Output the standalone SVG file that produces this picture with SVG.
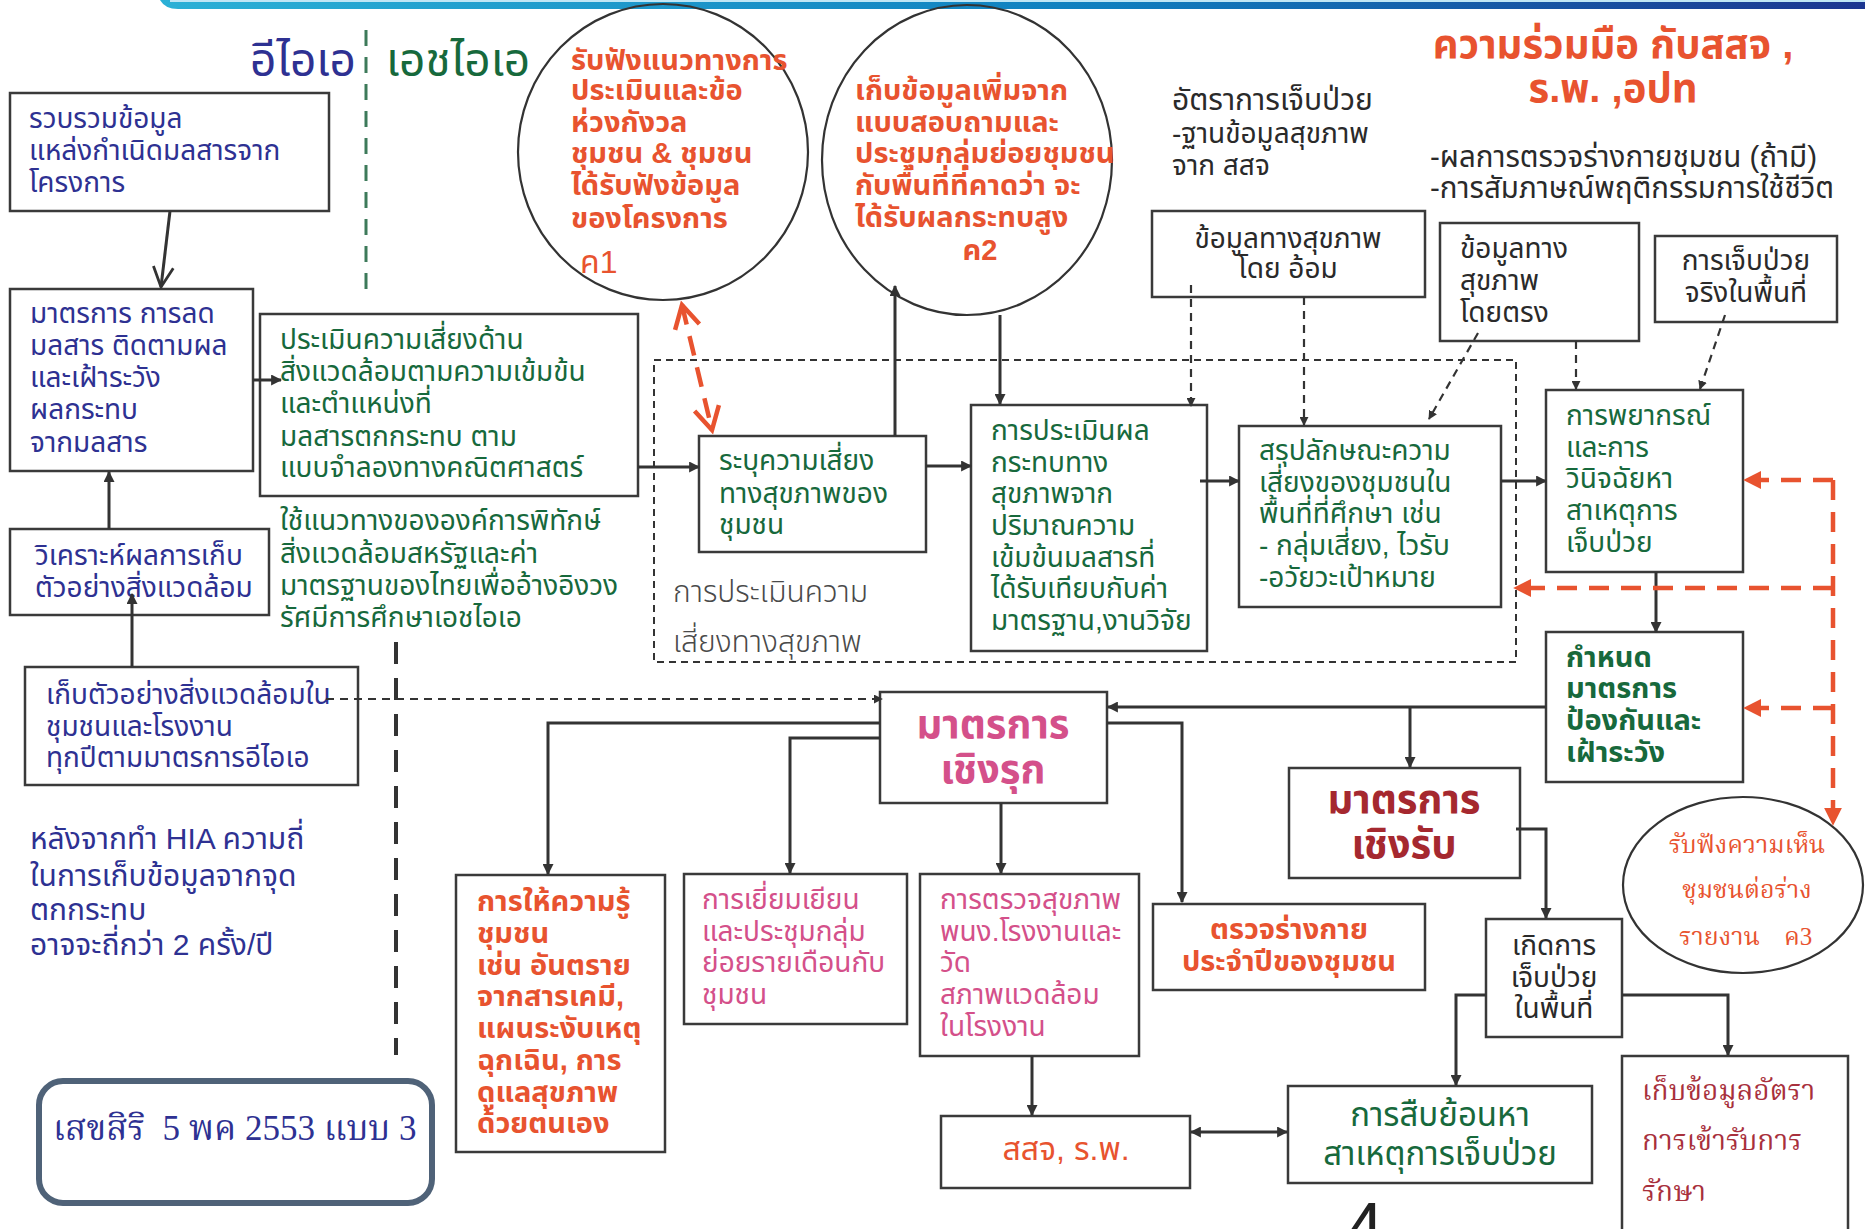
<svg xmlns="http://www.w3.org/2000/svg" width="1865" height="1229" viewBox="0 0 1865 1229">
<defs>
<linearGradient id="bar" x1="0" y1="0" x2="1" y2="0">
<stop offset="0" stop-color="#2bb0d6"/>
<stop offset="0.55" stop-color="#0f7fbf"/>
<stop offset="1" stop-color="#1c3690"/>
</linearGradient>
<marker id="ah" viewBox="0 0 10 10" refX="9" refY="5" markerWidth="9" markerHeight="9" markerUnits="userSpaceOnUse" orient="auto-start-reverse">
<path d="M0,0 L10,5 L0,10 z" fill="#333"/>
</marker>
<marker id="ahL" viewBox="0 0 10 10" refX="9" refY="5" markerWidth="11" markerHeight="11" markerUnits="userSpaceOnUse" orient="auto-start-reverse">
<path d="M0,0 L10,5 L0,10 z" fill="#333"/>
</marker>
<marker id="ahV" viewBox="0 0 12 12" refX="11" refY="6" markerWidth="24" markerHeight="24" markerUnits="userSpaceOnUse" orient="auto">
<path d="M1,1 L11,6 L1,11" fill="none" stroke="#333" stroke-width="1.4"/>
</marker>
<marker id="ahO" viewBox="0 0 10 10" refX="9" refY="5" markerWidth="18" markerHeight="18" markerUnits="userSpaceOnUse" orient="auto-start-reverse">
<path d="M0,0 L10,5 L0,10 z" fill="#e8532f"/>
</marker>
<marker id="ahOV" viewBox="0 0 12 12" refX="10" refY="6" markerWidth="30" markerHeight="30" markerUnits="userSpaceOnUse" orient="auto-start-reverse">
<path d="M1,1 L10,6 L1,11" fill="none" stroke="#e8532f" stroke-width="1.8"/>
</marker>
</defs>
<style>
text { font-family: "Liberation Sans", "Noto Sans Thai", "Noto Sans", sans-serif; font-size: 28px; }
.serif { font-family: "Liberation Serif", "Noto Serif Thai", "Noto Sans Thai", serif; }
.b { font-weight: bold; font-size: 29px; }
.blue { fill: #2e3192; }
.green { fill: #17693c; }
.orange { fill: #e8532f; }
.pink { fill: #d4508a; }
.dred { fill: #a5282f; }
.mred { fill: #a8303c; }
.dark { fill: #2a2a2a; }
.grey { fill: #4a4a4a; }
.box { fill: #fff; stroke: #3a3a3a; stroke-width: 2.5; }
.ell { fill: none; stroke: #333; stroke-width: 2.2; }
.c { stroke: #333; stroke-width: 3; fill: none; }
.cd { stroke: #333; stroke-width: 2.2; fill: none; stroke-dasharray: 8 6; }
.co { stroke: #e8532f; stroke-width: 4.5; fill: none; stroke-dasharray: 20 12; }
.mid { text-anchor: middle; }
</style>

<rect width="1865" height="1229" fill="#ffffff"/>

<!-- top banner -->
<path d="M160,0 H1865 V9 H178 Q165,9 160,0 z" fill="url(#bar)"/>
<rect x="170" y="0" width="1695" height="2" fill="#bfe6f5"/>

<!-- separators -->
<g id="separators">
<line x1="366" y1="30" x2="366" y2="293" stroke="#3d7a5a" stroke-width="3" stroke-dasharray="16 11"/>
<line x1="396" y1="642" x2="396" y2="1055" stroke="#333" stroke-width="4" stroke-dasharray="22 14"/>
<rect x="654" y="360" width="862" height="302" fill="none" stroke="#333" stroke-width="2" stroke-dasharray="7 5"/>
</g>

<!-- titles -->
<g id="title-eia"><text x="250" y="76" class="blue" style="font-size:46px">อีไอเอ</text></g>
<g id="title-hia"><text x="386" y="76" class="green" style="font-size:46px">เอชไอเอ</text></g>
<g id="title-coop">
<text x="1613" y="58" class="orange b mid" style="font-size:40px">ความร่วมมือ กับสสจ ,</text>
<text x="1613" y="102" class="orange b mid" style="font-size:40px">ร.พ. ,อปท</text>
</g>
<g id="note-rate">
<text x="1172" y="110" class="dark" style="font-size:30px">อัตราการเจ็บป่วย</text>
<text x="1172" y="143" class="dark">-ฐานข้อมูลสุขภาพ</text>
<text x="1172" y="175" class="dark">จาก สสจ</text>
</g>
<g id="note-exam">
<text x="1430" y="167" class="dark" style="font-size:29.5px">-ผลการตรวจร่างกายชุมชน (ถ้ามี)</text>
<text x="1430" y="198" class="dark" style="font-size:29.5px">-การสัมภาษณ์พฤติกรรมการใช้ชีวิต</text>
</g>

<!-- left column -->
<g id="n-collect">
<rect class="box" x="10" y="93" width="319" height="118"/>
<text x="29" y="128" class="blue">รวบรวมข้อมูล</text>
<text x="29" y="160" class="blue">แหล่งกำเนิดมลสารจาก</text>
<text x="29" y="192" class="blue">โครงการ</text>
</g>
<g id="n-measure">
<rect class="box" x="10" y="289" width="243" height="182"/>
<text x="30" y="323" class="blue">มาตรการ การลด</text>
<text x="30" y="355" class="blue">มลสาร ติดตามผล</text>
<text x="30" y="387" class="blue">และเฝ้าระวัง</text>
<text x="30" y="419" class="blue">ผลกระทบ</text>
<text x="30" y="452" class="blue">จากมลสาร</text>
</g>
<g id="n-assess-env">
<rect class="box" x="260" y="314" width="378" height="182"/>
<text x="280" y="349" class="green">ประเมินความเสี่ยงด้าน</text>
<text x="280" y="381" class="green">สิ่งแวดล้อมตามความเข้มข้น</text>
<text x="280" y="413" class="green">และตำแหน่งที่</text>
<text x="280" y="446" class="green">มลสารตกกระทบ ตาม</text>
<text x="280" y="477" class="green">แบบจำลองทางคณิตศาสตร์</text>
</g>
<g id="note-epa">
<text x="280" y="530" class="green">ใช้แนวทางขององค์การพิทักษ์</text>
<text x="280" y="563" class="green">สิ่งแวดล้อมสหรัฐและค่า</text>
<text x="280" y="595" class="green">มาตรฐานของไทยเพื่ออ้างอิงวง</text>
<text x="280" y="627" class="green">รัศมีการศึกษาเอชไอเอ</text>
</g>
<g id="n-analyse">
<rect class="box" x="10" y="529" width="259" height="86"/>
<text x="35" y="565" class="blue">วิเคราะห์ผลการเก็บ</text>
<text x="35" y="597" class="blue">ตัวอย่างสิ่งแวดล้อม</text>
</g>
<g id="n-sample">
<rect class="box" x="25" y="667" width="333" height="118"/>
<text x="46" y="704" class="blue">เก็บตัวอย่างสิ่งแวดล้อมใน</text>
<text x="46" y="736" class="blue">ชุมชนและโรงงาน</text>
<text x="46" y="767" class="blue">ทุกปีตามมาตรการอีไอเอ</text>
</g>
<g id="note-freq">
<text x="30" y="849" class="blue" style="font-size:30px">หลังจากทำ HIA ความถี่</text>
<text x="30" y="886" class="blue" style="font-size:30px">ในการเก็บข้อมูลจากจุด</text>
<text x="30" y="920" class="blue" style="font-size:30px">ตกกระทบ</text>
<text x="30" y="955" class="blue" style="font-size:30px">อาจจะถี่กว่า 2 ครั้ง/ปี</text>
</g>
<g id="n-stamp">
<rect x="39" y="1081" width="393" height="122" rx="24" fill="#fff" stroke="#4f6278" stroke-width="6"/>
<text x="53" y="1140" class="blue serif" xml:space="preserve" style="font-size:35px">เสขสิริ  5 พค 2553 แบบ 3</text>
</g>

<!-- circles -->
<g id="n-listen1">
<ellipse class="ell" cx="663" cy="152" rx="145" ry="148"/>
<text x="571" y="70" class="orange b">รับฟังแนวทางการ</text>
<text x="571" y="100" class="orange b">ประเมินและข้อ</text>
<text x="571" y="132" class="orange b">ห่วงกังวล</text>
<text x="571" y="163" class="orange b">ชุมชน &amp; ชุมชน</text>
<text x="571" y="195" class="orange b">ได้รับฟังข้อมูล</text>
<text x="571" y="228" class="orange b">ของโครงการ</text>
<text x="580" y="273" class="orange" style="font-size:32px">ค1</text>
</g>
<g id="n-survey">
<ellipse class="ell" cx="967" cy="160" rx="145" ry="155"/>
<text x="855" y="100" class="orange b">เก็บข้อมูลเพิ่มจาก</text>
<text x="855" y="132" class="orange b">แบบสอบถามและ</text>
<text x="855" y="163" class="orange b">ประชุมกลุ่มย่อยชุมชน</text>
<text x="855" y="195" class="orange b">กับพื้นที่ที่คาดว่า จะ</text>
<text x="855" y="227" class="orange b">ได้รับผลกระทบสูง</text>
<text x="980" y="260" class="orange b mid">ค2</text>
</g>

<!-- health risk assessment -->
<g id="note-hra">
<text x="673" y="602" class="grey" style="font-size:30px;font-weight:300">การประเมินความ</text>
<text x="673" y="652" class="grey" style="font-size:30px;font-weight:300">เสี่ยงทางสุขภาพ</text>
</g>
<g id="n-identify">
<rect class="box" x="699" y="436" width="227" height="116"/>
<text x="719" y="470" class="green">ระบุความเสี่ยง</text>
<text x="719" y="503" class="green">ทางสุขภาพของ</text>
<text x="719" y="534" class="green">ชุมชน</text>
</g>
<g id="n-impact">
<rect class="box" x="971" y="405" width="236" height="246"/>
<text x="991" y="440" class="green">การประเมินผล</text>
<text x="991" y="472" class="green">กระทบทาง</text>
<text x="991" y="503" class="green">สุขภาพจาก</text>
<text x="991" y="535" class="green">ปริมาณความ</text>
<text x="991" y="567" class="green">เข้มข้นมลสารที่</text>
<text x="991" y="598" class="green">ได้รับเทียบกับค่า</text>
<text x="991" y="630" class="green">มาตรฐาน,งานวิจัย</text>
</g>
<g id="n-summary">
<rect class="box" x="1239" y="426" width="262" height="181"/>
<text x="1259" y="460" class="green">สรุปลักษณะความ</text>
<text x="1259" y="492" class="green">เสี่ยงของชุมชนใน</text>
<text x="1259" y="523" class="green">พื้นที่ที่ศึกษา เช่น</text>
<text x="1259" y="555" class="green">- กลุ่มเสี่ยง, ไวรับ</text>
<text x="1259" y="587" class="green">-อวัยวะเป้าหมาย</text>
</g>
<g id="n-indirect">
<rect class="box" x="1152" y="211" width="273" height="86"/>
<text x="1288" y="248" class="dark mid">ข้อมูลทางสุขภาพ</text>
<text x="1288" y="278" class="dark mid">โดย อ้อม</text>
</g>
<g id="n-direct">
<rect class="box" x="1440" y="223" width="199" height="118"/>
<text x="1460" y="258" class="dark">ข้อมูลทาง</text>
<text x="1460" y="290" class="dark">สุขภาพ</text>
<text x="1460" y="322" class="dark">โดยตรง</text>
</g>
<g id="n-real">
<rect class="box" x="1655" y="236" width="182" height="86"/>
<text x="1746" y="270" class="dark mid">การเจ็บป่วย</text>
<text x="1746" y="302" class="dark mid">จริงในพื้นที่</text>
</g>
<g id="n-predict">
<rect class="box" x="1546" y="390" width="197" height="182"/>
<text x="1566" y="425" class="green">การพยากรณ์</text>
<text x="1566" y="457" class="green">และการ</text>
<text x="1566" y="488" class="green">วินิจฉัยหา</text>
<text x="1566" y="520" class="green">สาเหตุการ</text>
<text x="1566" y="552" class="green">เจ็บป่วย</text>
</g>
<g id="n-define">
<rect class="box" x="1546" y="632" width="197" height="150"/>
<text x="1566" y="667" class="green b">กำหนด</text>
<text x="1566" y="698" class="green b">มาตรการ</text>
<text x="1566" y="730" class="green b">ป้องกันและ</text>
<text x="1566" y="762" class="green b">เฝ้าระวัง</text>
</g>

<!-- measures -->
<g id="n-proactive">
<rect class="box" x="880" y="692" width="227" height="111"/>
<text x="993" y="738" class="pink b mid" style="font-size:40px">มาตรการ</text>
<text x="993" y="783" class="pink b mid" style="font-size:40px">เชิงรุก</text>
</g>
<g id="n-reactive">
<rect class="box" x="1289" y="768" width="231" height="110"/>
<text x="1404" y="813" class="dred b mid" style="font-size:40px">มาตรการ</text>
<text x="1404" y="858" class="dred b mid" style="font-size:40px">เชิงรับ</text>
</g>
<g id="n-educate">
<rect class="box" x="456" y="875" width="209" height="277"/>
<text x="477" y="911" class="orange b">การให้ความรู้</text>
<text x="477" y="943" class="orange b">ชุมชน</text>
<text x="477" y="975" class="orange b">เช่น อันตราย</text>
<text x="477" y="1006" class="orange b">จากสารเคมี,</text>
<text x="477" y="1038" class="orange b">แผนระงับเหตุ</text>
<text x="477" y="1070" class="orange b">ฉุกเฉิน, การ</text>
<text x="477" y="1102" class="orange b">ดูแลสุขภาพ</text>
<text x="477" y="1133" class="orange b">ด้วยตนเอง</text>
</g>
<g id="n-visit">
<rect class="box" x="684" y="874" width="223" height="150"/>
<text x="702" y="909" class="pink">การเยี่ยมเยียน</text>
<text x="702" y="941" class="pink">และประชุมกลุ่ม</text>
<text x="702" y="972" class="pink">ย่อยรายเดือนกับ</text>
<text x="702" y="1004" class="pink">ชุมชน</text>
</g>
<g id="n-checkup">
<rect class="box" x="920" y="874" width="219" height="182"/>
<text x="940" y="909" class="pink">การตรวจสุขภาพ</text>
<text x="940" y="941" class="pink">พนง.โรงงานและ</text>
<text x="940" y="972" class="pink">วัด</text>
<text x="940" y="1004" class="pink">สภาพแวดล้อม</text>
<text x="940" y="1036" class="pink">ในโรงงาน</text>
</g>
<g id="n-annual">
<rect class="box" x="1153" y="904" width="272" height="86"/>
<text x="1289" y="939" class="orange b mid">ตรวจร่างกาย</text>
<text x="1289" y="971" class="orange b mid">ประจำปีของชุมชน</text>
</g>
<g id="n-hospital">
<rect class="box" x="941" y="1116" width="249" height="72"/>
<text x="1066" y="1160" class="orange mid" style="font-size:32px">สสจ, ร.พ.</text>
</g>
<g id="n-trace">
<rect class="box" x="1288" y="1086" width="304" height="97"/>
<text x="1440" y="1126" class="green mid" style="font-size:33px">การสืบย้อนหา</text>
<text x="1440" y="1165" class="green mid" style="font-size:33px">สาเหตุการเจ็บป่วย</text>
</g>
<g id="n-illness">
<rect class="box" x="1486" y="919" width="136" height="118"/>
<text x="1554" y="955" class="dark mid">เกิดการ</text>
<text x="1554" y="987" class="dark mid">เจ็บป่วย</text>
<text x="1554" y="1018" class="dark mid">ในพื้นที่</text>
</g>
<g id="n-rate">
<rect class="box" x="1622" y="1056" width="226" height="200"/>
<text x="1642" y="1100" class="mred serif">เก็บข้อมูลอัตรา</text>
<text x="1642" y="1150" class="mred serif">การเข้ารับการ</text>
<text x="1642" y="1201" class="mred serif">รักษา</text>
</g>
<g id="n-listen3">
<ellipse class="ell" cx="1743" cy="885" rx="120" ry="88"/>
<text x="1747" y="853" class="orange serif mid" style="font-size:25px">รับฟังความเห็น</text>
<text x="1747" y="898" class="orange serif mid" style="font-size:25px">ชุมชนต่อร่าง</text>
<text x="1679" y="945" class="orange serif" style="font-size:25px">รายงาน</text>
<text x="1784" y="945" class="orange serif" style="font-size:25px">ค3</text>
</g>

<text x="1345" y="1252" style="font-family:'Liberation Sans',sans-serif;font-size:70px" fill="#222">4</text>

<!-- connectors -->
<g id="connectors">
<path class="c" d="M170,211 L161,287" marker-end="url(#ahV)"/>
<path class="c" d="M109,529 V472" marker-end="url(#ahL)"/>
<path class="c" d="M132,667 V594" marker-end="url(#ahL)"/>
<path class="c" d="M253,380 H281" marker-end="url(#ahL)"/>
<path class="c" d="M638,467 H699" marker-end="url(#ahL)"/>
<path class="c" d="M895,436 V286" marker-end="url(#ahL)"/>
<path class="c" d="M1000,315 V404" marker-end="url(#ahL)"/>
<path class="c" d="M926,466 H971" marker-end="url(#ahL)"/>
<path class="c" d="M1200,481 H1239" marker-end="url(#ahL)"/>
<path class="c" d="M1501,481 H1546" marker-end="url(#ahL)"/>
<path class="c" d="M1656,572 V632" marker-end="url(#ahL)"/>
<path class="c" d="M1546,707 H1108" marker-end="url(#ahL)"/>
<path class="c" d="M1410,707 V767" marker-end="url(#ahL)"/>
<path class="c" d="M1107,723 H1182 V902" marker-end="url(#ahL)"/>
<path class="c" d="M880,723 H548 V874" marker-end="url(#ahL)"/>
<path class="c" d="M880,738 H790 V873" marker-end="url(#ahL)"/>
<path class="c" d="M1001,803 V873" marker-end="url(#ahL)"/>
<path class="c" d="M1032,1056 V1115" marker-end="url(#ahL)"/>
<path class="c" d="M1191,1132 H1287" marker-start="url(#ahL)" marker-end="url(#ahL)"/>
<path class="c" d="M1516,829 H1546 V918" marker-end="url(#ahL)"/>
<path class="c" d="M1486,995 H1456 V1085" marker-end="url(#ahL)"/>
<path class="c" d="M1622,995 H1728 V1055" marker-end="url(#ahL)"/>
<path class="cd" d="M1191,285 V406" marker-end="url(#ah)"/>
<path class="cd" d="M1304,297 V425" marker-end="url(#ah)"/>
<path class="cd" d="M1478,333 L1429,419" marker-end="url(#ah)"/>
<path class="cd" d="M1576,341 V389" marker-end="url(#ah)"/>
<path class="cd" d="M1725,315 L1700,389" marker-end="url(#ah)"/>
<path class="cd" d="M326,699 H882" stroke-width="2.6" stroke-dasharray="10 7" marker-end="url(#ah)"/>
<path class="co" d="M682,305 L712,430" marker-start="url(#ahOV)" marker-end="url(#ahOV)"/>
<path class="co" d="M1833,480 H1745" marker-end="url(#ahO)"/>
<path class="co" d="M1833,480 V824" marker-end="url(#ahO)"/>
<path class="co" d="M1833,588 H1515" marker-end="url(#ahO)"/>
<path class="co" d="M1833,708 H1745" marker-end="url(#ahO)"/>
</g>
</svg>
